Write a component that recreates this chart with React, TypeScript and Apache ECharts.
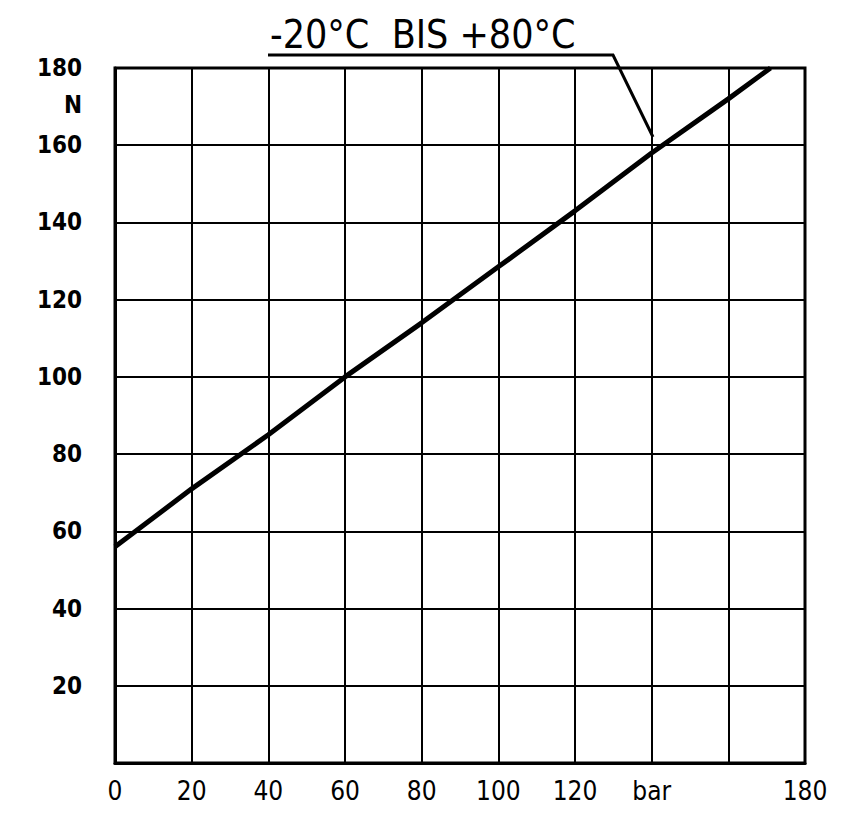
import React, { useEffect, useRef } from "react";
import * as echarts from "echarts";

const pressureBar = [0, 20, 40, 60, 80, 100, 120, 140, 160, 171];
const forceN = [56, 71, 85, 100, 114, 128.5, 143, 158, 172, 180];
const xTickLabels: Record<number, string> = { 0: "0", 20: "20", 40: "40", 60: "60", 80: "80", 100: "100", 120: "120", 140: "bar", 160: "", 180: "180" };
const yTickLabels: Record<number, string> = { 0: "", 20: "20", 40: "40", 60: "60", 80: "80", 100: "100", 120: "120", 140: "140", 160: "160", 180: "180" };
const titleText = "-20°C  BIS +80°C";
const yUnit = "N";

const FONT = "'DejaVu Sans Condensed', 'DejaVu Sans', sans-serif";
const NARROW = "'Liberation Sans Narrow', 'DejaVu Sans Condensed', sans-serif";

export default function App() {
  const ref = useRef<HTMLDivElement>(null);
  useEffect(() => {
    if (!ref.current) return;
    const chart = echarts.init(ref.current, null, { renderer: "svg" });
    chart.setOption({
      animation: false,
      backgroundColor: "#fff",
      grid: { left: 115, right: 41, top: 68, bottom: 52, show: true, borderColor: "#000", borderWidth: 3, backgroundColor: "transparent" },
      xAxis: {
        type: "value", min: 0, max: 180, interval: 20,
        axisLine: { show: true, lineStyle: { color: "#000", width: 3 } },
        axisTick: { show: false },
        splitLine: { show: true, lineStyle: { color: "#000", width: 2 } },
        axisLabel: {
          color: "#000", fontFamily: NARROW, fontSize: 26, margin: 15,
          formatter: (v: number) => xTickLabels[v] ?? "",
        },
      },
      yAxis: {
        type: "value", min: 0, max: 180, interval: 20,
        axisLine: { show: true, lineStyle: { color: "#000", width: 3 } },
        axisTick: { show: false },
        splitLine: { show: true, lineStyle: { color: "#000", width: 2 } },
        axisLabel: {
          color: "#000", fontFamily: FONT, fontSize: 24, fontWeight: "bold", margin: 33,
          formatter: (v: number) => yTickLabels[v] ?? "",
        },
      },
      series: [
        {
          type: "line",
          data: pressureBar.map((x, i) => [x, forceN[i]]),
          showSymbol: false,
          lineStyle: { color: "#000", width: 5 },
          clip: true,
        },
      ],
      graphic: [
        {
          type: "text", left: 270, top: 15,
          style: { text: titleText, fill: "#000", font: `39px ${FONT}` },
        },
        {
          type: "polyline",
          shape: { points: [[268, 55], [613, 55], [653, 137]] },
          style: { stroke: "#000", lineWidth: 3, fill: "none" },
        },
        {
          type: "text", x: 82, y: 105,
          style: { text: yUnit, fill: "#000", font: `bold 24px ${FONT}`, align: "right", verticalAlign: "middle" },
        },
      ],
    });
    return () => chart.dispose();
  }, []);
  return <div ref={ref} style={{ width: 846, height: 815, margin: -8 }} />;
}
